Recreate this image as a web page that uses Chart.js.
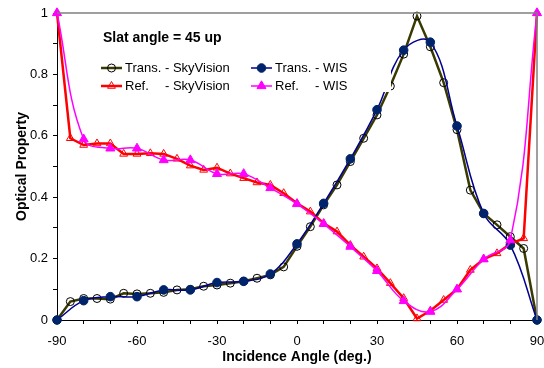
<!DOCTYPE html>
<html>
<head>
<meta charset="utf-8">
<script src="https://cdn.jsdelivr.net/npm/chart.js@4"></script>
<style>
  body { margin: 0; background: #fff; }
  canvas { display: block; }
</style>
</head>
<body>
<canvas id="chart" width="544" height="368"></canvas>
<script>
// Angles (deg.)
const anglesSV = [-90, -85, -80, -75, -70, -65, -60, -55, -50, -45, -40, -35, -30, -25, -20, -15, -10, -5,
  0, 5, 10, 15, 20, 25, 30, 35, 40, 45, 50, 55, 60, 65, 70, 75, 80, 85, 90];
const anglesWIS = [-90, -80, -70, -60, -50, -40, -30, -20, -10, 0, 10, 20, 30, 40, 50, 60, 70, 80, 90];

// Series values
const transSV = [0, 0.06, 0.07, 0.07, 0.068, 0.087, 0.085, 0.087, 0.09, 0.098, 0.10, 0.11, 0.114, 0.12, 0.126, 0.136, 0.147, 0.173,
  0.24, 0.304, 0.375, 0.44, 0.516, 0.592, 0.668, 0.762, 0.866, 0.99, 0.89, 0.773, 0.62, 0.423, 0.347, 0.31, 0.271, 0.233, 0];
const refSV = [1.0, 0.592, 0.57, 0.575, 0.575, 0.541, 0.541, 0.543, 0.541, 0.525, 0.503, 0.489, 0.496, 0.477, 0.462, 0.448, 0.44, 0.413,
  0.38, 0.353, 0.315, 0.288, 0.244, 0.206, 0.168, 0.12, 0.071, 0.005, 0.03, 0.065, 0.1, 0.163, 0.198, 0.217, 0.248, 0.266, 1.0];
const transWIS = [0, 0.063, 0.076, 0.076, 0.098, 0.098, 0.122, 0.126, 0.15, 0.248, 0.38, 0.525, 0.685, 0.879, 0.905, 0.632, 0.347, 0.244, 0];
const refWIS = [1.0, 0.589, 0.559, 0.559, 0.521, 0.521, 0.476, 0.476, 0.43, 0.378, 0.313, 0.239, 0.16, 0.062, 0.027, 0.1, 0.198, 0.26, 1.0];

const chartTitle = 'Slat angle = 45 up';
const xTitle = 'Incidence Angle (deg.)';
const yTitle = 'Optical Property';

const FONT = '"Liberation Sans", Arial, sans-serif';

function toPoints(xs, ys) {
    return xs.map((x, i) => ({ x: x, y: ys[i] }));
}

// Datasets (first ones drawn on top)
const datasets = [
    {
        label: 'Ref.|- WIS',
        data: toPoints(anglesWIS, refWIS),
        borderColor: '#ff00ff', borderWidth: 1.5, tension: 0.4,
        pointStyle: 'triangle', pointRadius: 5.2,
        pointBackgroundColor: '#ff00ff', pointBorderColor: '#ff00ff', pointBorderWidth: 1
    },
    {
        label: 'Trans.|- WIS',
        data: toPoints(anglesWIS, transWIS),
        borderColor: '#000090', borderWidth: 1.5, tension: 0.4,
        pointStyle: 'circle', pointRadius: 4.3,
        pointBackgroundColor: '#00246b', pointBorderColor: '#00246b', pointBorderWidth: 1
    },
    {
        label: 'Ref.|- SkyVision',
        data: toPoints(anglesSV, refSV),
        borderColor: '#ff0000', borderWidth: 2.5, tension: 0,
        pointStyle: 'triangle', pointRadius: 4.5,
        pointBackgroundColor: 'rgba(255,255,255,0)', pointBorderColor: '#ff0000', pointBorderWidth: 1
    },
    {
        label: 'Trans.|- SkyVision',
        data: toPoints(anglesSV, transSV),
        borderColor: '#3a3a00', borderWidth: 2.5, tension: 0,
        pointStyle: 'circle', pointRadius: 4,
        pointBackgroundColor: 'rgba(255,255,255,0)', pointBorderColor: '#000000', pointBorderWidth: 1
    }
];

// Draw one legend marker
function drawMarker(ctx, ds, x, y) {
    ctx.save();
    ctx.fillStyle = ds.pointBackgroundColor;
    ctx.strokeStyle = ds.pointBorderColor;
    ctx.lineWidth = ds.pointBorderWidth;
    ctx.beginPath();
    const r = ds.pointRadius;
    if (ds.pointStyle === 'circle') {
        ctx.arc(x, y, r, 0, Math.PI * 2);
    } else {
        for (let k = 0; k < 3; k++) {
            const a = k * 2 * Math.PI / 3;
            ctx.lineTo(x + Math.sin(a) * r, y - Math.cos(a) * r);
        }
        ctx.closePath();
    }
    ctx.fill();
    ctx.stroke();
    ctx.restore();
}

// Frame on top/right + legend box inside the plot
const framePlugin = {
    id: 'frameAndLegend',
    afterDatasetsDraw(chart) {
        const ctx = chart.ctx;
        const a = chart.chartArea;
        ctx.save();
        ctx.strokeStyle = '#808080';
        ctx.lineWidth = 1.5;
        ctx.beginPath();
        ctx.moveTo(a.left, a.top);
        ctx.lineTo(a.right, a.top);
        ctx.lineTo(a.right, a.bottom);
        ctx.stroke();

        // legend box (opaque white)
        ctx.fillStyle = '#ffffff';
        ctx.fillRect(95, 22, 296, 70);

        ctx.fillStyle = '#000';
        ctx.textBaseline = 'middle';
        ctx.font = 'bold 14px ' + FONT;
        ctx.fillText(chartTitle, 103, 38);

        ctx.font = '13px ' + FONT;
        const dashOffset = ctx.measureText('Trans. ').width;
        const order = [3, 1, 2, 0];
        const cols = [101, 251];
        const rows = [68, 86];
        order.forEach((di, i) => {
            const ds = chart.data.datasets[di];
            const lx = cols[i % 2];
            const ly = rows[Math.floor(i / 2)];
            ctx.strokeStyle = ds.borderColor;
            ctx.lineWidth = ds.borderWidth;
            ctx.beginPath();
            ctx.moveTo(lx, ly);
            ctx.lineTo(lx + 21, ly);
            ctx.stroke();
            drawMarker(ctx, ds, lx + 10.5, ly);
            const parts = ds.label.split('|');
            ctx.fillStyle = '#000';
            ctx.fillText(parts[0], lx + 24, ly);
            ctx.fillText(parts[1], lx + 24 + dashOffset, ly);
        });
        ctx.restore();
    }
};

new Chart(document.getElementById('chart').getContext('2d'), {
    type: 'line',
    data: { datasets: datasets },
    plugins: [framePlugin],
    options: {
        responsive: false,
        animation: false,
        events: [],
        clip: false,
        layout: { padding: { top: 13, right: 7, left: 0, bottom: 0 } },
        plugins: {
            legend: { display: false },
            tooltip: { enabled: false }
        },
        scales: {
            x: {
                type: 'linear',
                min: -90,
                max: 90,
                ticks: {
                    stepSize: 10,
                    autoSkip: false,
                    maxRotation: 0,
                    padding: 10,
                    color: '#000',
                    font: { family: FONT, size: 13 },
                    callback: v => (v % 30 === 0 ? String(v) : '')
                },
                grid: { drawOnChartArea: false, tickLength: 4, color: '#000' },
                border: { color: '#000', width: 1 },
                title: {
                    display: true,
                    text: xTitle,
                    color: '#000',
                    font: { family: FONT, size: 14, weight: 'bold' },
                    padding: { top: 0, bottom: 2 }
                },
                afterFit: s => {
                    s.height = 48;
                    s.paddingLeft = 0;
                    s.paddingRight = 0;
                }
            },
            y: {
                min: 0,
                max: 1,
                ticks: {
                    stepSize: 0.1,
                    autoSkip: false,
                    padding: 5,
                    color: '#000',
                    font: { family: FONT, size: 13 },
                    callback: v => {
                        const t = Math.round(v * 10);
                        return t % 2 === 0 ? String(t / 10) : '';
                    }
                },
                grid: { drawOnChartArea: false, tickLength: 4, color: '#000' },
                border: { color: '#000', width: 1 },
                title: {
                    display: true,
                    text: yTitle,
                    color: '#000',
                    font: { family: FONT, size: 14, weight: 'bold' },
                    padding: { top: 14, bottom: 0 }
                },
                afterFit: s => {
                    s.width = 57;
                    s.paddingTop = 0;
                    s.paddingBottom = 0;
                }
            }
        }
    }
});
</script>
</body>
</html>
